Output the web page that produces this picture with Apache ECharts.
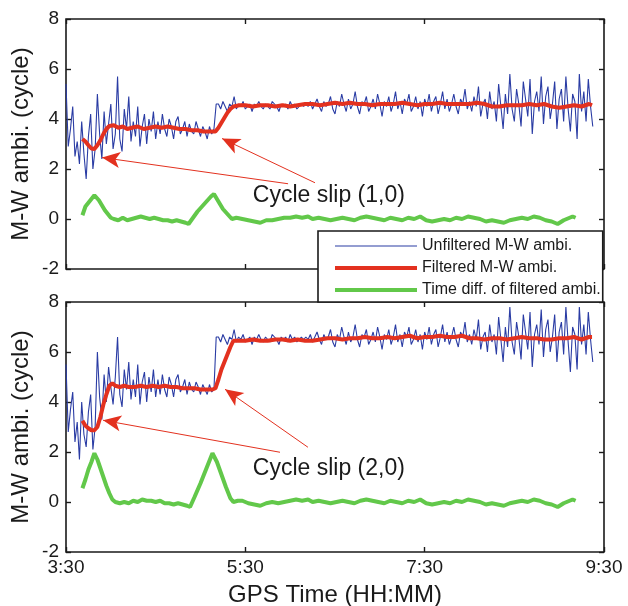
<!DOCTYPE html>
<html><head><meta charset="utf-8">
<script src="https://cdn.jsdelivr.net/npm/echarts@6/dist/echarts.min.js"></script>
<style>html,body{margin:0;padding:0;background:#fff}#c{width:628px;height:606px}</style>
</head><body><div id="c"></div>
<script>
// x values are minutes after 3:30 GPS time
const xTickLabels = ['3:30', '5:30', '7:30', '9:30'];
const seriesNames = ['Unfiltered M-W ambi.', 'Filtered M-W ambi.', 'Time diff. of filtered ambi.'];
const slipLabels = ['Cycle slip (1,0)', 'Cycle slip (2,0)'];

// unfiltered ambiguity, one value every 1.5 minutes starting at 3:30
const blueStartMin = 0, blueStepMin = 1.5;
const blueTop = [
  5.4,2.9,3.6,4.5,2.5,3.1,2.2,3.9,2.6,1.6,3.3,4.2,2.0,2.8,5.0,3.4,2.4,
  4.3,3.0,3.8,4.6,2.8,3.4,5.7,3.2,2.7,4.4,3.6,4.9,3.1,3.9,3.3,4.5,2.9,3.7,4.2,3.0,4.0,3.5,4.3,3.2,
  3.9,3.4,4.2,3.6,3.3,4.0,3.7,3.2,3.9,4.1,3.4,3.6,3.9,3.3,3.8,3.5,3.4,3.9,3.6,3.3,3.7,3.5,3.2,3.7,3.4,
  3.6,4.6,
  4.6,4.4,4.7,4.5,4.3,4.6,4.5,4.9,4.4,4.6,4.5,4.7,4.4,4.5,4.6,4.3,4.6,4.5,4.7,4.5,
  4.4,4.6,4.5,4.4,4.7,4.6,4.5,4.3,4.6,4.5,4.6,4.4,4.7,4.5,4.6,4.4,4.5,4.6,4.5,4.6,
  4.5,4.7,4.4,4.6,4.8,4.5,4.3,4.7,4.5,4.6,4.9,4.4,4.2,4.7,4.5,5.0,4.6,4.3,4.8,4.4,
  4.6,5.1,4.5,4.2,4.7,4.6,4.9,4.3,4.5,4.8,4.4,5.0,4.6,4.1,4.7,4.5,4.9,4.3,4.6,5.1,
  4.4,4.7,4.2,4.8,4.6,5.0,4.3,4.5,4.9,4.4,4.7,4.1,4.8,
  4.5,5.0,4.3,4.7,4.9,4.2,4.6,5.1,4.4,4.8,4.3,4.6,5.0,4.5,4.2,4.8,4.6,5.2,4.4,4.7,
  4.3,4.9,4.5,5.3,4.1,4.6,4.8,4.0,5.1,4.4,4.7,3.9,5.4,4.5,3.6,
  5.0,4.2,5.8,4.4,3.9,5.2,4.6,3.7,5.5,4.8,4.1,5.6,3.4,4.7,5.1,4.3,5.7,3.8,4.9,5.3,
  4.0,4.6,5.5,3.6,4.8,5.2,3.9,5.7,4.4,3.5,5.0,4.7,3.2,5.8,4.3,5.1,3.9,5.6,4.5,3.7
];
const blueBottom = [
  5.5,2.8,3.7,4.4,2.4,3.2,1.7,4.0,2.7,2.2,3.6,4.3,2.1,3.0,6.0,4.2,3.3,
  5.1,4.0,5.4,4.6,3.9,5.0,6.6,4.3,3.8,5.3,4.5,5.6,4.1,4.9,4.2,5.5,3.9,4.8,5.2,4.0,5.0,4.4,5.3,4.2,
  4.9,4.3,5.1,4.5,4.2,5.0,4.7,4.2,4.9,5.1,4.4,4.6,4.9,4.3,4.8,4.5,4.4,4.8,4.6,4.3,4.7,4.5,4.3,4.7,4.4,
  4.5,6.6,
  6.6,6.4,6.7,6.5,6.3,6.6,6.5,6.9,6.4,6.6,6.5,6.7,6.4,6.5,6.6,6.3,6.6,6.5,6.7,6.5,
  6.4,6.6,6.5,6.4,6.7,6.6,6.5,6.3,6.6,6.5,6.6,6.4,6.7,6.5,6.6,6.4,6.5,6.6,6.5,6.6,
  6.5,6.7,6.4,6.6,6.8,6.5,6.3,6.7,6.5,6.6,6.9,6.4,6.2,6.7,6.5,7.0,6.6,6.3,6.8,6.4,
  6.6,7.1,6.5,6.2,6.7,6.6,6.9,6.3,6.5,6.8,6.4,7.0,6.6,6.1,6.7,6.5,6.9,6.3,6.6,7.1,
  6.4,6.7,6.2,6.8,6.6,7.0,6.3,6.5,6.9,6.4,6.7,6.1,6.8,
  6.5,7.0,6.3,6.7,6.9,6.2,6.6,7.1,6.4,6.8,6.3,6.6,7.0,6.5,6.2,6.8,6.6,7.2,6.4,6.7,
  6.3,6.9,6.5,7.3,6.1,6.6,6.8,6.0,7.1,6.4,6.7,5.9,7.4,6.5,5.6,
  7.0,6.2,7.8,6.4,5.9,7.2,6.6,5.7,7.5,6.8,6.1,7.6,5.4,6.7,7.1,6.3,7.7,5.8,6.9,7.3,
  6.0,6.6,7.5,5.6,6.8,7.2,5.9,7.8,6.4,5.2,7.0,6.7,5.3,7.8,6.3,7.1,5.9,7.6,6.5,5.6
];

// [minute, value]
const redTop = [
  [11,3.2],[13,3.1],[15,2.95],[17,2.82],[19,2.8],[21,2.95],[23,3.15],[25,3.4],[27,3.6],[29,3.72],[32,3.75],
  [35,3.65],[38,3.7],[41,3.6],[44,3.65],[48,3.7],[52,3.6],[56,3.65],[60,3.7],[64,3.65],[68,3.7],[72,3.65],
  [76,3.6],[80,3.6],[84,3.55],[88,3.55],[92,3.5],[96,3.5],[100,3.5],[102,3.65],[104,3.85],[106,4.05],[108,4.25],
  [110,4.4],[112,4.5],[116,4.55],[120,4.55],[125,4.5],[130,4.55],[135,4.55],[140,4.5],[145,4.55],[150,4.5],
  [155,4.55],[160,4.6],[165,4.6],[170,4.55],[175,4.6],[180,4.65],[185,4.6],[190,4.65],[195,4.6],[200,4.6],
  [205,4.55],[210,4.6],[215,4.6],[220,4.6],[225,4.65],[230,4.6],[235,4.55],[240,4.6],[245,4.6],[250,4.65],
  [255,4.6],[260,4.6],[265,4.6],[270,4.6],[275,4.65],[280,4.6],[285,4.5],[290,4.5],[295,4.55],[300,4.55],
  [305,4.55],[310,4.6],[315,4.55],[320,4.6],[325,4.5],[330,4.45],[335,4.5],[340,4.55],[345,4.5],[350,4.6],[352,4.55]
];
const redBottom = [
  [11,3.25],[13,3.05],[15,2.95],[17,2.87],[19,2.87],[21,3.0],[23,3.4],[25,3.9],[27,4.3],[29,4.65],[31,4.75],
  [33,4.65],[36,4.6],[39,4.65],[42,4.6],[46,4.6],[50,4.65],[54,4.6],[58,4.65],[62,4.6],[66,4.65],[70,4.6],
  [74,4.6],[78,4.55],[82,4.55],[86,4.55],[90,4.5],[94,4.5],[98,4.5],[100,4.55],[102,4.9],[104,5.3],[106,5.6],
  [108,5.9],[110,6.2],[112,6.45],[116,6.45],[120,6.45],[125,6.5],[130,6.45],[135,6.45],[140,6.5],[145,6.5],
  [150,6.45],[155,6.5],[160,6.45],[165,6.45],[170,6.5],[175,6.55],[180,6.55],[185,6.5],[190,6.55],[195,6.55],
  [200,6.6],[205,6.55],[210,6.55],[215,6.6],[220,6.55],[225,6.6],[230,6.65],[235,6.55],[240,6.6],[245,6.6],
  [250,6.65],[255,6.6],[260,6.6],[265,6.65],[270,6.55],[275,6.55],[280,6.5],[285,6.55],[290,6.55],[295,6.5],
  [300,6.55],[305,6.6],[310,6.55],[315,6.55],[320,6.5],[325,6.5],[330,6.55],[335,6.55],[340,6.6],[345,6.5],[350,6.6],[352,6.6]
];
const greenTop = [
  [11,0.15],[13,0.5],[15,0.65],[17,0.8],[19,0.95],[20,1.0],[22,0.75],[24,0.55],[26,0.35],[28,0.2],[30,0.05],
  [32,0.0],[35,-0.05],[38,0.05],[41,-0.05],[44,0.0],[47,0.05],[50,0.1],[53,0.05],[56,0.0],[59,0.05],[62,0.0],
  [65,-0.05],[68,-0.05],[71,-0.1],[74,-0.05],[77,-0.1],[80,-0.15],[82,-0.2],[85,0.05],[88,0.3],[91,0.5],[94,0.7],
  [97,0.9],[99,1.0],[101,0.8],[103,0.6],[105,0.4],[108,0.2],[111,0.0],[114,0.05],[118,0.0],[122,-0.05],[126,-0.1],
  [130,-0.15],[134,-0.05],[138,-0.05],[142,0.0],[146,0.05],[150,0.05],[154,0.1],[158,0.05],[162,0.1],[165,0.0],
  [169,0.05],[173,0.0],[177,-0.05],[181,0.0],[185,0.05],[189,0.0],[193,-0.05],[197,0.05],[201,0.1],[205,0.05],
  [209,0.0],[213,-0.05],[217,0.05],[221,0.0],[225,-0.05],[229,0.05],[233,0.0],[237,0.1],[241,-0.05],[245,-0.1],
  [249,-0.05],[253,0.0],[257,-0.05],[261,0.05],[265,0.0],[269,0.1],[273,0.05],[277,0.0],[281,-0.1],[285,-0.05],
  [289,-0.1],[293,-0.15],[297,-0.05],[301,0.0],[305,0.05],[309,0.0],[313,0.1],[317,0.05],[321,-0.05],[325,-0.1],
  [329,-0.2],[333,-0.05],[337,0.05],[339,0.1],[341,0.05]
];
const greenBottom = [
  [11,0.55],[13,0.9],[15,1.3],[17,1.6],[19,1.95],[21,1.7],[23,1.35],[25,1.0],[27,0.65],[29,0.35],[31,0.1],
  [33,0.0],[36,-0.05],[39,0.0],[42,-0.05],[45,0.05],[48,0.0],[51,0.1],[54,0.05],[57,0.05],[60,0.0],[63,0.05],
  [66,-0.05],[69,-0.05],[72,-0.1],[75,-0.05],[78,-0.1],[81,-0.15],[83,-0.2],[86,0.2],[90,0.75],[94,1.35],
  [98,1.95],[101,1.6],[104,1.1],[107,0.6],[110,0.15],[112,0.0],[115,0.05],[118,0.05],[122,-0.05],[126,-0.1],
  [130,-0.15],[134,-0.05],[138,0.0],[142,-0.05],[146,0.0],[150,0.05],[154,0.1],[158,0.05],[162,0.1],[165,0.0],
  [169,0.05],[173,0.0],[177,-0.05],[181,0.0],[185,0.05],[189,0.0],[193,-0.05],[197,0.05],[201,0.1],[205,0.05],
  [209,0.0],[213,-0.05],[217,0.05],[221,0.0],[225,-0.05],[229,0.05],[233,0.0],[237,0.1],[241,-0.05],[245,-0.1],
  [249,-0.05],[253,0.0],[257,-0.05],[261,0.05],[265,0.0],[269,0.1],[273,0.05],[277,0.0],[281,-0.1],[285,-0.05],
  [289,-0.1],[293,-0.15],[297,-0.05],[301,0.0],[305,0.05],[309,0.0],[313,0.1],[317,0.05],[321,-0.05],[325,-0.1],
  [329,-0.2],[333,-0.05],[337,0.05],[339,0.1],[341,0.05]
];

// annotation anchors in data coordinates [minute, value]
const arrowsTop = [ [[148.6,1.41],[24.1,2.46]], [[166.6,1.45],[104.4,3.22]] ];
const arrowsBottom = [ [[143.2,1.99],[24.8,3.27]], [[161.9,2.19],[106.4,4.51]] ];
const slipTextPos = [[125,0.92],[125,1.35]];

const FONT = '"Liberation Sans", Arial, Helvetica, sans-serif';
const BLUE = '#2a3ca4', RED = '#e3311f', GREEN = '#62c84a', INK = '#1a1a1a';

function blueData(arr){ return arr.map((v,i)=>[blueStartMin + i*blueStepMin, v]); }

const gridTops = [19, 302];
const grids = gridTops.map(t=>({left:66, right:24, top:t, height:250, show:true, borderColor:INK, borderWidth:1.6,
  backgroundColor:'transparent', containLabel:false, outerBoundsMode:'none'}));

function xAxisDef(gi, pos, showLabels){
  return {
    type:'value', gridIndex:gi, position:pos, min:0, max:360, interval:120,
    axisLine:{show:false, onZero:false}, splitLine:{show:false},
    axisTick:{show:true, inside:true, length:5, lineStyle:{color:INK, width:1.4}},
    axisLabel:{show:showLabels, margin:6, color:INK, fontSize:19, fontFamily:FONT,
      formatter:(v)=>xTickLabels[Math.round(v/120)] || ''},
    name: showLabels ? 'GPS Time (HH:MM)' : '', nameLocation:'middle', nameGap:31, nameMoveOverlap:false,
    nameTextStyle:{fontSize:24, fontFamily:FONT, color:INK}
  };
}
function yAxisDef(gi, pos, showLabels){
  return {
    type:'value', gridIndex:gi, position:pos, min:-2, max:8, interval:2,
    axisLine:{show:false, onZero:false}, splitLine:{show:false},
    axisTick:{show:true, inside:true, length:5, lineStyle:{color:INK, width:1.4}},
    axisLabel:{show:showLabels, margin:7, color:INK, fontSize:19, fontFamily:FONT},
    name: showLabels ? 'M-W ambi. (cycle)' : '', nameLocation:'middle', nameGap:33, nameMoveOverlap:false,
    nameTextStyle:{fontSize:24, fontFamily:FONT, color:INK}
  };
}

function arrowMarkLine(arrows){
  return {
    silent:true, animation:false, symbol:['none','arrow'],
    label:{show:false}, emphasis:{disabled:true},
    lineStyle:{color:RED, width:1, type:'solid', opacity:1},
    data: arrows.map(a=>[{coord:a[0], symbol:'none', symbolSize:0}, {coord:a[1], symbol:'arrow', symbolSize:[12,18]}])
  };
}

function panelSeries(p, blue, red, green, arrows){
  return [
    {name:seriesNames[0], type:'line', xAxisIndex:p, yAxisIndex:p, data:blueData(blue), symbol:'none', z:2,
     lineStyle:{color:BLUE, width:1.1}, itemStyle:{color:BLUE}, silent:true},
    {name:seriesNames[1], type:'line', xAxisIndex:p, yAxisIndex:p, data:red, symbol:'none', z:3,
     lineStyle:{color:RED, width:4}, itemStyle:{color:RED}, silent:true, markLine:arrowMarkLine(arrows)},
    {name:seriesNames[2], type:'line', xAxisIndex:p, yAxisIndex:p, data:green, symbol:'none', z:3,
     lineStyle:{color:GREEN, width:4}, itemStyle:{color:GREEN}, silent:true}
  ];
}

const option = {
  animation:false,
  backgroundColor:'#fff',
  grid: grids,
  xAxis:[ xAxisDef(0,'bottom',false), xAxisDef(1,'bottom',true), xAxisDef(0,'top',false), xAxisDef(1,'top',false) ],
  yAxis:[ yAxisDef(0,'left',true), yAxisDef(1,'left',true), yAxisDef(0,'right',false), yAxisDef(1,'right',false) ],
  legend:{
    orient:'vertical', left:318, top:231, z:10,
    backgroundColor:'#fff', borderColor:INK, borderWidth:1.6, borderRadius:0,
    padding:[7,2,4,15], itemWidth:82, itemHeight:14, itemGap:6,
    textStyle:{fontSize:16, fontFamily:FONT, color:INK},
    lineStyle:{width:'inherit'},
    itemStyle:{opacity:0},
    selectedMode:false,
    data: seriesNames
  },
  series:[
    ...panelSeries(0, blueTop, redTop, greenTop, arrowsTop),
    ...panelSeries(1, blueBottom, redBottom, greenBottom, arrowsBottom)
  ]
};

const chart = echarts.init(document.getElementById('c'), null, {renderer:'canvas'});
chart.setOption(option);
const pts = slipTextPos.map((p,k)=>chart.convertToPixel({gridIndex:k}, p));
chart.setOption({
  graphic: pts.map((pt,k)=>({
    type:'text', x:pt[0], y:pt[1], z:20, silent:true,
    style:{text:slipLabels[k], fontSize:23, fontFamily:FONT, fill:INK, align:'left', verticalAlign:'middle'}
  }))
});
</script>
</body></html>
